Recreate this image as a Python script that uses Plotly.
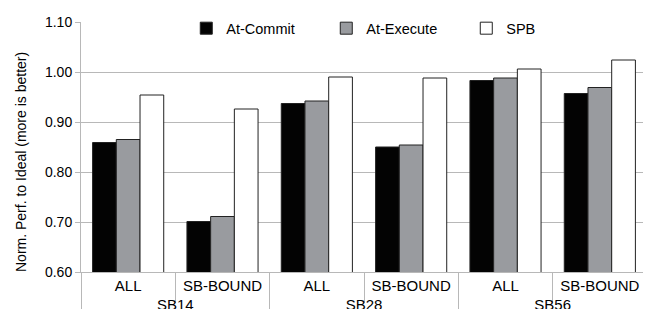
import plotly.graph_objects as go

groups = ["SB14", "SB14", "SB28", "SB28", "SB56", "SB56"]
subcats = ["ALL", "SB-BOUND", "ALL", "SB-BOUND", "ALL", "SB-BOUND"]

at_commit = [0.859, 0.701, 0.937, 0.850, 0.983, 0.957]
at_execute = [0.865, 0.711, 0.942, 0.854, 0.988, 0.969]
spb = [0.954, 0.926, 0.990, 0.988, 1.006, 1.024]

y_title = "Norm. Perf. to Ideal (more is better)"

series = [
    ("At-Commit", at_commit, "#030303"),
    ("At-Execute", at_execute, "#999b9f"),
    ("SPB", spb, "#ffffff"),
]

FONT = "Liberation Sans, Arial, sans-serif"
fig = go.Figure()
for name, vals, col in series:
    fig.add_trace(go.Bar(
        name=name, x=[groups, subcats], y=vals,
        marker=dict(color=col, line=dict(color="#222222", width=1)),
    ))

# page has an 8px body margin; figure is sized so it ends at the window edge
fig.update_layout(
    width=643, height=301,
    margin=dict(l=73, r=4, t=4, b=37),
    paper_bgcolor="white", plot_bgcolor="white",
    barmode="group", bargap=0.246, bargroupgap=0,
    font=dict(family=FONT, color="#000000", size=14),
    showlegend=True,
    legend=dict(orientation="h", x=0.186, xanchor="left", y=0.975, yanchor="middle",
                bgcolor="rgba(0,0,0,0)", font=dict(size=14.5),
                entrywidth=95, entrywidthmode="pixels", traceorder="normal"),
    annotations=[dict(text=y_title, textangle=-90, xref="paper", yref="paper",
                      x=-0.106, y=0.44, xanchor="center", yanchor="middle",
                      showarrow=False, font=dict(size=14))],
)
fig.update_yaxes(
    range=[0.6, 1.1], dtick=0.1, tick0=0.6, tickformat=".2f",
    showgrid=True, gridcolor="#b8b8b8", gridwidth=1,
    showline=True, linecolor="#b8b8b8", linewidth=1, mirror=True,
    ticks="outside", ticklen=5, tickcolor="#b8b8b8",
    tickfont=dict(size=14), zeroline=False, automargin=False,
)
fig.update_xaxes(
    type="multicategory", automargin=False,
    showline=True, linecolor="#b8b8b8", linewidth=1,
    ticks="outside", tickson="boundaries", ticklen=30, tickcolor="#b8b8b8",
    showdividers=True, dividercolor="#b8b8b8", dividerwidth=1,
    tickfont=dict(size=15),
)

fig.write_html("out.html")
